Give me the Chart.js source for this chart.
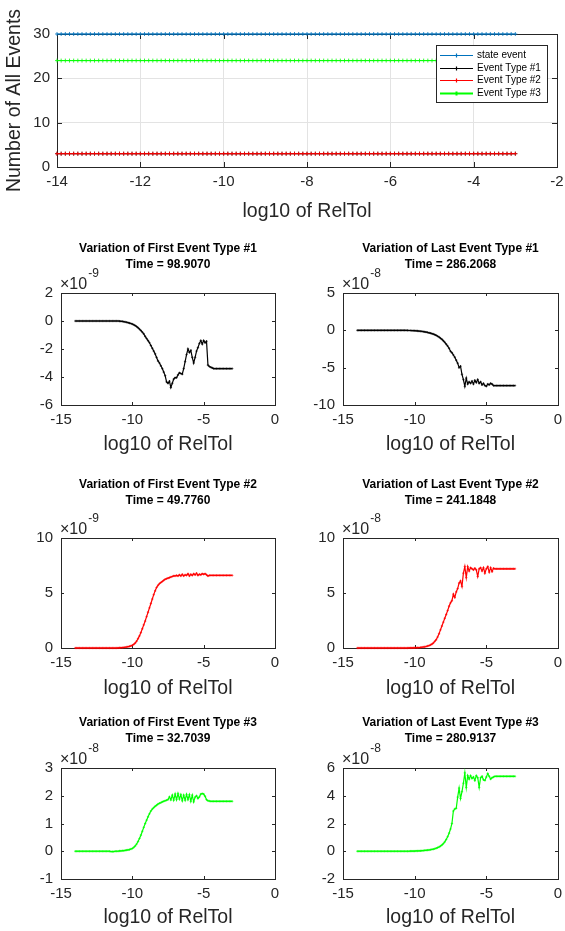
<!DOCTYPE html>
<html>
<head>
<meta charset="utf-8">
<title>Event variation vs RelTol</title>
<script src="https://cdn.jsdelivr.net/npm/chart.js@4.4.1/dist/chart.umd.min.js"></script>
<style>
  html, body { margin: 0; padding: 0; background: #fff; overflow: hidden; }
  body { width: 565px; height: 931px; position: relative; }
  canvas { position: absolute; }
</style>
</head>
<body>
<canvas id="count-chart" width="565" height="225" style="left:0;top:0"></canvas>
<canvas id="first-1" width="282" height="230" style="left:0;top:230px"></canvas>
<canvas id="last-1" width="283" height="230" style="left:282px;top:230px"></canvas>
<canvas id="first-2" width="282" height="243" style="left:0;top:460px"></canvas>
<canvas id="last-2" width="283" height="243" style="left:282px;top:460px"></canvas>
<canvas id="first-3" width="282" height="241" style="left:0;top:690px"></canvas>
<canvas id="last-3" width="283" height="241" style="left:282px;top:690px"></canvas>
<script>
// log10 of RelTol, shared by every panel
const relTol = [
  -14.0, -13.9, -13.8, -13.7, -13.6, -13.5, -13.4, -13.3, -13.2, -13.1,
  -13.0, -12.9, -12.8, -12.7, -12.6, -12.5, -12.4, -12.3, -12.2, -12.1,
  -12.0, -11.9, -11.8, -11.7, -11.6, -11.5, -11.4, -11.3, -11.2, -11.1,
  -11.0, -10.9, -10.8, -10.7, -10.6, -10.5, -10.4, -10.3, -10.2, -10.1,
  -10.0, -9.9, -9.8, -9.7, -9.6, -9.5, -9.4, -9.3, -9.2, -9.1,
  -9.0, -8.9, -8.8, -8.7, -8.6, -8.5, -8.4, -8.3, -8.2, -8.1,
  -8.0, -7.9, -7.8, -7.7, -7.6, -7.5, -7.4, -7.3, -7.2, -7.1,
  -7.0, -6.9, -6.8, -6.7, -6.6, -6.5, -6.4, -6.3, -6.2, -6.1,
  -6.0, -5.9, -5.8, -5.7, -5.6, -5.5, -5.4, -5.3, -5.2, -5.1,
  -5.0, -4.9, -4.8, -4.7, -4.6, -4.5, -4.4, -4.3, -4.2, -4.1,
  -4.0, -3.9, -3.8, -3.7, -3.6, -3.5, -3.4, -3.3, -3.2, -3.1,
  -3.0
];

// Number of events of each kind
const stateEvents = [
  30, 30, 30, 30, 30, 30, 30, 30, 30, 30,
  30, 30, 30, 30, 30, 30, 30, 30, 30, 30,
  30, 30, 30, 30, 30, 30, 30, 30, 30, 30,
  30, 30, 30, 30, 30, 30, 30, 30, 30, 30,
  30, 30, 30, 30, 30, 30, 30, 30, 30, 30,
  30, 30, 30, 30, 30, 30, 30, 30, 30, 30,
  30, 30, 30, 30, 30, 30, 30, 30, 30, 30,
  30, 30, 30, 30, 30, 30, 30, 30, 30, 30,
  30, 30, 30, 30, 30, 30, 30, 30, 30, 30,
  30, 30, 30, 30, 30, 30, 30, 30, 30, 30,
  30, 30, 30, 30, 30, 30, 30, 30, 30, 30,
  30
];
const type1Events = [
  3, 3, 3, 3, 3, 3, 3, 3, 3, 3,
  3, 3, 3, 3, 3, 3, 3, 3, 3, 3,
  3, 3, 3, 3, 3, 3, 3, 3, 3, 3,
  3, 3, 3, 3, 3, 3, 3, 3, 3, 3,
  3, 3, 3, 3, 3, 3, 3, 3, 3, 3,
  3, 3, 3, 3, 3, 3, 3, 3, 3, 3,
  3, 3, 3, 3, 3, 3, 3, 3, 3, 3,
  3, 3, 3, 3, 3, 3, 3, 3, 3, 3,
  3, 3, 3, 3, 3, 3, 3, 3, 3, 3,
  3, 3, 3, 3, 3, 3, 3, 3, 3, 3,
  3, 3, 3, 3, 3, 3, 3, 3, 3, 3,
  3
];
const type2Events = [
  3, 3, 3, 3, 3, 3, 3, 3, 3, 3,
  3, 3, 3, 3, 3, 3, 3, 3, 3, 3,
  3, 3, 3, 3, 3, 3, 3, 3, 3, 3,
  3, 3, 3, 3, 3, 3, 3, 3, 3, 3,
  3, 3, 3, 3, 3, 3, 3, 3, 3, 3,
  3, 3, 3, 3, 3, 3, 3, 3, 3, 3,
  3, 3, 3, 3, 3, 3, 3, 3, 3, 3,
  3, 3, 3, 3, 3, 3, 3, 3, 3, 3,
  3, 3, 3, 3, 3, 3, 3, 3, 3, 3,
  3, 3, 3, 3, 3, 3, 3, 3, 3, 3,
  3, 3, 3, 3, 3, 3, 3, 3, 3, 3,
  3
];
const type3Events = [
  24, 24, 24, 24, 24, 24, 24, 24, 24, 24,
  24, 24, 24, 24, 24, 24, 24, 24, 24, 24,
  24, 24, 24, 24, 24, 24, 24, 24, 24, 24,
  24, 24, 24, 24, 24, 24, 24, 24, 24, 24,
  24, 24, 24, 24, 24, 24, 24, 24, 24, 24,
  24, 24, 24, 24, 24, 24, 24, 24, 24, 24,
  24, 24, 24, 24, 24, 24, 24, 24, 24, 24,
  24, 24, 24, 24, 24, 24, 24, 24, 24, 24,
  24, 24, 24, 24, 24, 24, 24, 24, 24, 24,
  24, 24, 24, 24, 24, 24, 24, 24, 24, 24,
  24, 24, 24, 24, 24, 24, 24, 24, 24, 24,
  24
];

// Variation of first event type #1 (x 1e-9)
const firstType1 = [
  0, 0, 0, 0, 0, 0, 0, 0, 0, 0,
  0, 0, 0, 0, 0, 0, 0, 0, 0, 0,
  0, 0, 0, 0, 0, 0, 0, 0, 0, 0,
  0, -0.01, -0.02, -0.03, -0.05, -0.07, -0.09, -0.12, -0.15, -0.18,
  -0.22, -0.27, -0.33, -0.40, -0.48, -0.58, -0.68, -0.80, -0.92, -1.10,
  -1.25, -1.40, -1.55, -1.75, -1.95, -2.15, -2.35, -2.60, -2.85, -3.00,
  -3.20, -3.40, -3.65, -3.90, -4.35, -4.45, -4.30, -4.75, -4.45, -4.15,
  -4.05, -4.05, -3.85, -3.70, -3.75, -3.80, -3.40, -2.90, -2.40, -2.00,
  -2.25, -2.10, -2.60, -3.00, -2.60, -2.15, -1.90, -1.60, -1.40, -1.65,
  -1.40, -1.55, -1.45, -3.15, -3.25, -3.30, -3.35, -3.40, -3.40, -3.40,
  -3.40, -3.40, -3.40, -3.40, -3.40, -3.40, -3.40, -3.40, -3.40, -3.40,
  -3.40
];
// Variation of last event type #1 (x 1e-8)
const lastType1 = [
  0, 0, 0, 0, 0, 0, 0, 0, 0, 0,
  0, 0, 0, 0, 0, 0, 0, 0, 0, 0,
  0, 0, 0, 0, 0, 0, 0, 0, 0, 0,
  0, 0, 0, 0, -0.01, -0.01, -0.02, -0.02, -0.03, -0.04,
  -0.05, -0.06, -0.08, -0.10, -0.12, -0.14, -0.17, -0.20, -0.24, -0.28,
  -0.33, -0.38, -0.44, -0.50, -0.58, -0.67, -0.78, -0.90, -1.05, -1.20,
  -1.40, -1.60, -1.85, -2.10, -2.40, -2.80, -3.00, -3.30, -3.60, -4.00,
  -4.40, -5.00, -4.80, -5.90, -6.60, -7.50, -6.40, -7.20, -6.90, -7.10,
  -6.80, -7.20, -6.70, -7.00, -6.60, -7.10, -6.90, -7.30, -7.10, -7.40,
  -7.50, -7.20, -7.30, -7.10, -7.20, -7.40, -7.40, -7.40, -7.40, -7.40,
  -7.40, -7.40, -7.40, -7.40, -7.40, -7.40, -7.40, -7.40, -7.40, -7.40,
  -7.40
];
// Variation of first event type #2 (x 1e-9)
const firstType2 = [
  0, 0, 0, 0, 0, 0, 0, 0, 0, 0,
  0, 0, 0, 0, 0, 0, 0, 0, 0, 0,
  0, 0, 0, 0, 0, 0, 0, 0, 0, 0,
  0.01, 0.02, 0.03, 0.04, 0.05, 0.07, 0.09, 0.12, 0.15, 0.19,
  0.25, 0.33, 0.45, 0.62, 0.85, 1.10, 1.40, 1.75, 2.10, 2.45,
  2.85, 3.25, 3.65, 4.05, 4.45, 4.85, 5.20, 5.50, 5.70, 5.85,
  5.95, 6.05, 6.15, 6.25, 6.30, 6.35, 6.40, 6.45, 6.50, 6.55,
  6.55, 6.60, 6.55, 6.65, 6.55, 6.70, 6.55, 6.65, 6.60, 6.75,
  6.55, 6.70, 6.60, 6.75, 6.65, 6.80, 6.60, 6.70, 6.65, 6.75,
  6.70, 6.75, 6.65, 6.55, 6.60, 6.60, 6.60, 6.60, 6.60, 6.60,
  6.60, 6.60, 6.60, 6.60, 6.60, 6.60, 6.60, 6.60, 6.60, 6.60,
  6.60
];
// Variation of last event type #2 (x 1e-8)
const lastType2 = [
  0, 0, 0, 0, 0, 0, 0, 0, 0, 0,
  0, 0, 0, 0, 0, 0, 0, 0, 0, 0,
  0, 0, 0, 0, 0, 0, 0, 0, 0, 0,
  0, 0, 0, 0, 0, 0, 0.01, 0.01, 0.01, 0.02,
  0.02, 0.03, 0.03, 0.04, 0.05, 0.07, 0.09, 0.11, 0.14, 0.18,
  0.22, 0.28, 0.35, 0.45, 0.60, 0.75, 1.00, 1.30, 1.65, 2.00,
  2.35, 2.70, 3.05, 3.40, 3.80, 4.10, 4.30, 4.90, 4.60, 5.10,
  5.40, 5.90, 6.10, 5.60, 6.80, 7.40, 6.40, 7.40, 7.00, 7.30,
  7.20, 7.10, 7.25, 7.10, 6.50, 7.20, 7.30, 7.00, 7.30, 6.80,
  7.20, 7.40, 6.90, 7.30, 6.95, 7.25, 7.20, 7.20, 7.20, 7.20,
  7.20, 7.20, 7.20, 7.20, 7.20, 7.20, 7.20, 7.20, 7.20, 7.20,
  7.20
];
// Variation of first event type #3 (x 1e-8)
const firstType3 = [
  0, 0, 0, 0, 0, 0, 0, 0, 0, 0,
  0, 0, 0, 0, 0, 0, 0, 0, 0, 0,
  0, 0, 0, 0, 0, -0.01, -0.01, -0.01, 0, 0,
  0, 0.01, 0.01, 0.02, 0.02, 0.03, 0.04, 0.05, 0.06, 0.08,
  0.10, 0.14, 0.19, 0.26, 0.35, 0.46, 0.58, 0.72, 0.86, 1.00,
  1.12, 1.24, 1.35, 1.45, 1.52, 1.57, 1.62, 1.66, 1.70, 1.73,
  1.75, 1.78, 1.80, 1.82, 1.84, 1.86, 1.96, 1.85, 2.02, 1.84,
  2.06, 1.86, 2.08, 1.88, 2.04, 1.82, 2.02, 1.84, 2.05, 1.86,
  2.04, 1.80, 2.02, 1.78, 1.95, 2.00, 1.90, 1.96, 2.06, 2.08,
  2.06, 1.98, 1.86, 1.82, 1.81, 1.80, 1.80, 1.80, 1.80, 1.80,
  1.80, 1.80, 1.80, 1.80, 1.80, 1.80, 1.80, 1.80, 1.80, 1.80,
  1.80
];
// Variation of last event type #3 (x 1e-8)
const lastType3 = [
  0, 0, 0, 0, 0, 0, 0, 0, 0, 0,
  0, 0, 0, 0, 0, 0, 0, 0, 0, 0,
  0, 0, 0, 0, 0, 0, 0, 0, 0, 0,
  0, 0, 0, 0, 0, 0, 0, 0.01, 0.01, 0.01,
  0.01, 0.02, 0.02, 0.03, 0.03, 0.04, 0.05, 0.06, 0.07, 0.08,
  0.09, 0.11, 0.13, 0.15, 0.18, 0.22, 0.26, 0.31, 0.37, 0.45,
  0.55, 0.68, 0.85, 1.05, 1.30, 1.60, 2.00, 2.90, 3.05, 3.10,
  3.90, 4.55, 3.80, 4.30, 4.90, 5.65, 4.60, 5.45, 5.20, 5.45,
  5.25, 5.35, 5.10, 5.45, 5.30, 4.60, 5.30, 5.40, 5.15, 5.10,
  5.35, 5.60, 5.40, 5.20, 5.30, 5.35, 5.40, 5.40, 5.40, 5.40,
  5.40, 5.40, 5.40, 5.40, 5.40, 5.40, 5.40, 5.40, 5.40, 5.40,
  5.40
];

// Tick values
const countXTicks = [-14, -12, -10, -8, -6, -4, -2];
const countYTicks = [0, 10, 20, 30];
const smallXTicks = [-15, -10, -5, 0];

const AXIS_COLOR = '#262626';
Chart.defaults.font.family = '"Liberation Sans", Arial, Helvetica, sans-serif';
Chart.defaults.color = AXIS_COLOR;

function points(values) {
    return relTol.map((x, i) => ({ x: x, y: values[i] }));
}

function useTicks(list) {
    return scale => { scale.ticks = list.map(v => ({ value: v })); };
}

// fixed axis sizes, and no extra room for labels that overhang the plot
function fixHeight(h) {
    return s => { s.height = h; s.paddingLeft = 0; s.paddingRight = 0; };
}
function fixWidth(w) {
    return s => { s.width = w; s.paddingTop = 0; s.paddingBottom = 0; };
}

// box round the plot plus MATLAB style inward ticks
const axesFrame = {
    id: 'axesFrame',
    beforeDatasetsDraw(chart, args, opts) {
        const { ctx, chartArea: a, scales } = chart;
        const len = opts.tickLength;
        ctx.save();
        ctx.strokeStyle = AXIS_COLOR;
        ctx.lineWidth = 1;
        ctx.beginPath();
        scales.x.ticks.forEach(t => {
            const px = Math.round(scales.x.getPixelForValue(t.value)) + 0.5;
            ctx.moveTo(px, a.bottom);
            ctx.lineTo(px, a.bottom - len);
            ctx.moveTo(px, a.top);
            ctx.lineTo(px, a.top + len);
        });
        scales.y.ticks.forEach(t => {
            const py = Math.round(scales.y.getPixelForValue(t.value)) + 0.5;
            ctx.moveTo(a.left, py);
            ctx.lineTo(a.left + len, py);
            ctx.moveTo(a.right, py);
            ctx.lineTo(a.right - len, py);
        });
        ctx.stroke();
        ctx.strokeRect(Math.round(a.left) + 0.5, Math.round(a.top) + 0.5,
            Math.round(a.width), Math.round(a.height));
        ctx.restore();
    }
};

// the "x 10^n" label above the y axis
const exponentLabel = {
    id: 'exponentLabel',
    afterDraw(chart, args, opts) {
        const { ctx, chartArea: a } = chart;
        ctx.save();
        ctx.fillStyle = AXIS_COLOR;
        ctx.textBaseline = 'middle';
        ctx.textAlign = 'left';
        ctx.font = '16px "Liberation Sans", Arial, sans-serif';
        const base = '\u00d710';
        ctx.fillText(base, a.left - 1, a.top - 8);
        const w = ctx.measureText(base).width;
        ctx.font = '12px "Liberation Sans", Arial, sans-serif';
        ctx.fillText(String(opts.power), a.left + w, a.top - 19);
        ctx.restore();
    }
};

// boxed legend inside the top right of the plot
const boxedLegend = {
    id: 'boxedLegend',
    afterDraw(chart) {
        const { ctx, chartArea: a } = chart;
        const w = 111, h = 57, rowH = 12.7;
        const x0 = Math.round(a.right - 10 - w), y0 = Math.round(a.top + 11);
        ctx.save();
        ctx.fillStyle = '#fff';
        ctx.fillRect(x0, y0, w, h);
        ctx.strokeStyle = AXIS_COLOR;
        ctx.lineWidth = 1;
        ctx.strokeRect(x0 + 0.5, y0 + 0.5, w, h);
        ctx.font = '10px "Liberation Sans", Arial, sans-serif';
        ctx.textBaseline = 'middle';
        chart.data.datasets.forEach((ds, i) => {
            const y = Math.round(y0 + 10 + i * rowH) + 0.5;
            ctx.strokeStyle = ds.borderColor;
            ctx.lineWidth = ds.legendWidth || 1.2;
            ctx.beginPath();
            ctx.moveTo(x0 + 4, y);
            ctx.lineTo(x0 + 37, y);
            ctx.moveTo(x0 + 20.5, y - 2);
            ctx.lineTo(x0 + 20.5, y + 2);
            ctx.stroke();
            ctx.fillStyle = '#000';
            ctx.fillText(ds.label, x0 + 41, y);
        });
        ctx.restore();
    }
};

function countSeries(label, values, color, order) {
    return {
        label: label,
        data: points(values),
        borderColor: color,
        backgroundColor: color,
        borderWidth: 1,
        pointStyle: 'cross',
        pointRadius: 2,
        pointBorderWidth: 0.8,
        pointBorderColor: color,
        order: order,
        clip: false
    };
}

const greenCount = countSeries('Event Type #3', type3Events, '#00FF00', 1);
greenCount.legendWidth = 2;

new Chart(document.getElementById('count-chart'), {
    type: 'line',
    data: {
        datasets: [
            countSeries('state event', stateEvents, '#0072BD', 4),
            countSeries('Event Type #1', type1Events, '#000000', 3),
            countSeries('Event Type #2', type2Events, '#FF0000', 2),
            greenCount
        ]
    },
    options: {
        responsive: false,
        animation: false,
        layout: { padding: { left: 0, right: 8, top: 34, bottom: 0 } },
        scales: {
            x: {
                type: 'linear',
                min: countXTicks[0],
                max: countXTicks[countXTicks.length - 1],
                afterBuildTicks: useTicks(countXTicks),
                afterFit: fixHeight(58),
                grid: { color: '#e3e3e3', drawTicks: false },
                border: { display: false },
                ticks: { padding: 6, font: { size: 15 }, autoSkip: false, maxRotation: 0 },
                title: {
                    display: true, text: 'log10 of RelTol',
                    font: { size: 19.5, lineHeight: '22px' },
                    padding: { top: 0, bottom: 2 }
                }
            },
            y: {
                min: countYTicks[0],
                max: countYTicks[countYTicks.length - 1],
                afterBuildTicks: useTicks(countYTicks),
                afterFit: fixWidth(57),
                grid: { color: '#e3e3e3', drawTicks: false },
                border: { display: false },
                ticks: { padding: 7, font: { size: 15 } },
                title: {
                    display: true, text: 'Number of All Events',
                    font: { size: 19.5, lineHeight: '22px' },
                    padding: { top: 4, bottom: 0 }
                }
            }
        },
        plugins: {
            legend: { display: false },
            tooltip: { enabled: false },
            axesFrame: { tickLength: 5 }
        }
    },
    plugins: [axesFrame, boxedLegend]
});

// spacing per row of small panels
const rowLayout = [
    { titlePad: { top: 11, bottom: 20 }, axisH: 55, labelPad: 4 },
    { titlePad: { top: 17, bottom: 29 }, axisH: 55, labelPad: 3 },
    { titlePad: { top: 25, bottom: 21 }, axisH: 52, labelPad: 2 }
];

function smallChart(id, heading, values, color, yTicks, power, row) {
    const r = rowLayout[row];
    new Chart(document.getElementById(id), {
        type: 'line',
        data: {
            datasets: [{
                data: points(values),
                borderColor: color,
                backgroundColor: color,
                borderWidth: 1.2,
                pointStyle: 'cross',
                pointRadius: 1.2,
                pointBorderWidth: 0.6,
                pointBorderColor: color,
                clip: false
            }]
        },
        options: {
            responsive: false,
            animation: false,
            layout: { padding: { left: 0, right: 7, top: 0, bottom: 0 } },
            scales: {
                x: {
                    type: 'linear',
                    min: smallXTicks[0],
                    max: smallXTicks[smallXTicks.length - 1],
                    afterBuildTicks: useTicks(smallXTicks),
                    afterFit: fixHeight(r.axisH),
                    grid: { display: false, drawTicks: false },
                    border: { display: false },
                    ticks: { padding: 6, font: { size: 15 }, autoSkip: false, maxRotation: 0 },
                    title: {
                        display: true, text: 'log10 of RelTol',
                        font: { size: 19.5, lineHeight: '22px' },
                        padding: { top: 0, bottom: r.labelPad }
                    }
                },
                y: {
                    min: yTicks[0],
                    max: yTicks[yTicks.length - 1],
                    afterBuildTicks: useTicks(yTicks),
                    afterFit: fixWidth(61),
                    grid: { display: false, drawTicks: false },
                    border: { display: false },
                    ticks: { padding: 8, font: { size: 15 } }
                }
            },
            plugins: {
                legend: { display: false },
                tooltip: { enabled: false },
                title: {
                    display: true,
                    fullSize: false,
                    text: heading,
                    color: '#000',
                    font: { size: 12, weight: 'bold', lineHeight: '16px' },
                    padding: r.titlePad
                },
                axesFrame: { tickLength: 3 },
                exponentLabel: { power: power }
            }
        },
        plugins: [axesFrame, exponentLabel]
    });
}

smallChart('first-1', ['Variation of First Event Type #1', 'Time = 98.9070'],
    firstType1, '#000000', [-6, -4, -2, 0, 2], -9, 0);
smallChart('last-1', ['Variation of Last Event Type #1', 'Time = 286.2068'],
    lastType1, '#000000', [-10, -5, 0, 5], -8, 0);
smallChart('first-2', ['Variation of First Event Type #2', 'Time = 49.7760'],
    firstType2, '#FF0000', [0, 5, 10], -9, 1);
smallChart('last-2', ['Variation of Last Event Type #2', 'Time = 241.1848'],
    lastType2, '#FF0000', [0, 5, 10], -8, 1);
smallChart('first-3', ['Variation of First Event Type #3', 'Time = 32.7039'],
    firstType3, '#00FF00', [-1, 0, 1, 2, 3], -8, 2);
smallChart('last-3', ['Variation of Last Event Type #3', 'Time = 280.9137'],
    lastType3, '#00FF00', [-2, 0, 2, 4, 6], -8, 2);
</script>
</body>
</html>
